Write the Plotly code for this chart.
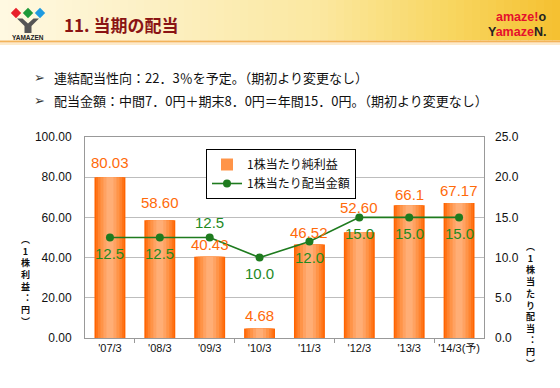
import plotly.graph_objects as go

# ---------------- data ----------------
categories = ["'07/3", "'08/3", "'09/3", "'10/3", "'11/3", "'12/3", "'13/3", "'14/3(予)"]
eps = [80.03, 58.60, 40.43, 4.68, 46.52, 52.60, 66.10, 67.17]
eps_labels = ["80.03", "58.60", "40.43", "4.68", "46.52", "52.60", "66.1", "67.17"]
dividend = [12.5, 12.5, 12.5, 10.0, 12.0, 15.0, 15.0, 15.0]
left_ticks = [0, 20, 40, 60, 80, 100]
right_ticks = [0, 5, 10, 15, 20, 25]
series_names = ["1株当たり純利益", "1株当たり配当金額"]
title_text = "11. 当期の配当"
bullets = ["連結配当性向：22．3％を予定。（期初より変更なし）",
           "配当金額：中間7．0円＋期末8．0円＝年間15．0円。（期初より変更なし）"]
left_title = "（1株利益：円）"
right_title = "（1株当たり配当：円）"

# ---------------- style ----------------
W, H = 560, 388
L, R, T, B = 85, 484, 137, 338
def px(x): return (x - L) / (R - L)
def py(y): return (B - y) / (B - T)

ORANGE_TXT = "#FF6A0A"
GREEN_TXT = "#1F8A1F"
GREEN_LINE = "#1E7B1E"
NUMFONT = "Liberation Sans, Arial, Noto Sans CJK JP"
JPFONT = "Noto Sans CJK JP, Liberation Sans"

bar_layers = [(0.62, "#FF6400"), (0.56, "#FF7418"), (0.48, "#FF8430"),
              (0.38, "#FF9448"), (0.26, "#FFA262"), (0.14, "#FFAE76")]
bar_label_shift = [15, 18, 12, 13, 12, 25, 11, 12]
div_label_shift = [-16, -16, 15, -16, -16, -16, -16, -16]

fig = go.Figure()
for i, (w, c) in enumerate(bar_layers):
    fig.add_trace(go.Bar(
        x=categories, y=eps, width=w, name=series_names[0],
        marker=dict(color=c, line=dict(width=0)),
        showlegend=(i == 3), hoverinfo="skip" if i else None,
        legendrank=1, yaxis="y"))
fig.add_trace(go.Scatter(
    x=categories, y=dividend, name=series_names[1], yaxis="y2",
    mode="lines+markers", line=dict(color=GREEN_LINE, width=1.6),
    marker=dict(color=GREEN_LINE, size=8), legendrank=2))
# invisible helper trace for the every-other-boundary tick marks
fig.add_trace(go.Scatter(x=[0], y=[0], xaxis="x3", yaxis="y", mode="markers",
                         marker=dict(opacity=0), showlegend=False, hoverinfo="skip"))

ann = []
for c, v, s, lab in zip(categories, eps, bar_label_shift, eps_labels):
    ann.append(dict(x=c, y=v, xref="x", yref="y", text=lab, showarrow=False,
                    xanchor="center", yanchor="middle",
                    yshift=s, font=dict(size=15, color=ORANGE_TXT, family=NUMFONT)))
for c, v, s in zip(categories, dividend, div_label_shift):
    ann.append(dict(x=c, y=v, xref="x", yref="y2", text=f"{v:.1f}", showarrow=False,
                    xanchor="center", yanchor="middle",
                    yshift=s, font=dict(size=15, color=GREEN_TXT, family=NUMFONT)))

def pann(x, y, text, size, color="#111", family=JPFONT, xanchor="center", weight="normal"):
    ann.append(dict(x=px(x), y=py(y), xref="paper", yref="paper", text=text,
                    showarrow=False, xanchor=xanchor, yanchor="middle",
                    font=dict(size=size, color=color, family=family, weight=weight)))

# vertical axis titles (stacked upright characters)
vmap = {"（": "︵", "）": "︶", "：": "︓"}
def vertical(text): return "<br>".join(vmap.get(ch, ch) for ch in text)
pann(25, 280, vertical(left_title), 9, weight="bold")
pann(530, 305, vertical(right_title), 9, weight="bold")

# header title + logos + bullets
pann(62, 24, title_text, 17, color="#8A1414", xanchor="left", weight="bold")
pann(28, 37, "YAMAZEN", 6.5, color="#222", family=NUMFONT, weight="bold")
pann(548, 17, "<span style='color:#E5102C'>amaze!</span><span style='color:#222'>o</span>",
     12.5, family=NUMFONT, xanchor="right", weight="bold")
pann(548, 31.5, "<span style='color:#222'>Y</span><span style='color:#E5102C'>amaze</span>"
     "<span style='color:#222'>N.</span>", 12.5, family=NUMFONT, xanchor="right", weight="bold")
for k, b in enumerate(bullets):
    yy = 77 + k * 24
    pann(39, yy, "➢", 13, color="#333", family="DejaVu Sans")
    pann(52, yy, b, 13, xanchor="left")

shapes = []
# banner gradient
def lerp(a, b, t): return int(round(a + (b - a) * t))
stops = [(0, (255, 249, 226)), (150, (252, 240, 196)), (320, (251, 232, 160)),
         (450, (248, 214, 96)), (560, (245, 192, 48))]
for x0 in range(0, 560, 8):
    xm = x0 + 4
    for (a, ca), (b, cb) in zip(stops[:-1], stops[1:]):
        if a <= xm <= b:
            t = (xm - a) / (b - a)
            col = "rgb(%d,%d,%d)" % tuple(lerp(ca[j], cb[j], t) for j in range(3))
            break
    shapes.append(dict(type="rect", xref="paper", yref="paper", x0=px(x0), x1=px(x0 + 8.5),
                       y0=py(0), y1=py(40.5), fillcolor=col, line=dict(width=0), layer="below"))
shapes.append(dict(type="rect", xref="paper", yref="paper", x0=px(0), x1=px(560),
                   y0=py(40.5), y1=py(42.5), fillcolor="#F3B35A", line=dict(width=0)))
shapes.append(dict(type="rect", xref="paper", yref="paper", x0=px(0), x1=px(560),
                   y0=py(43.3), y1=py(44.8), fillcolor="#FCE3B8", line=dict(width=0)))
# YAMAZEN mark
def diamond(cx, cy, r, col):
    pts = [(cx, cy - r), (cx + r, cy), (cx, cy + r), (cx - r, cy)]
    path = "M " + " L ".join(f"{px(a)} {py(b)}" for a, b in pts) + " Z"
    shapes.append(dict(type="path", xref="paper", yref="paper", path=path,
                       fillcolor=col, line=dict(width=0)))
diamond(16, 13, 5.2, "#E8202A")
diamond(28, 13, 5.2, "#1E9A3A")
diamond(40, 13, 5.2, "#1E9AE0")
ypts = [(17, 18.5), (22.5, 18.5), (28, 23.5), (33.5, 18.5), (39, 18.5),
        (31.5, 26), (31.5, 33), (24.5, 33), (24.5, 26)]
shapes.append(dict(type="path", xref="paper", yref="paper",
                   path="M " + " L ".join(f"{px(a)} {py(b)}" for a, b in ypts) + " Z",
                   fillcolor="#555", line=dict(width=0)))
# legend shadow
shapes.append(dict(type="rect", xref="paper", yref="paper", x0=px(209), x1=px(355),
                   y0=py(152), y1=py(194), fillcolor="#9a9a9a", line=dict(width=0)))

fig.update_layout(
    width=W, height=H, margin=dict(l=L, r=W - R, t=T, b=H - B),
    paper_bgcolor="white", plot_bgcolor="white", barmode="overlay",
    font=dict(family=NUMFONT, color="#111"),
    annotations=ann, shapes=shapes,
    legend=dict(x=px(206), y=py(149), xanchor="left", yanchor="top",
                bgcolor="white", bordercolor="#000", borderwidth=1,
                font=dict(size=12, family=JPFONT, color="#111"),
                tracegroupgap=0, itemwidth=30),
    xaxis=dict(type="category", showline=True, linecolor="#999", linewidth=1, mirror=True,
               ticks="", tickfont=dict(size=11, family=NUMFONT, color="#111"), showgrid=False),
    xaxis3=dict(overlaying="x", type="linear", range=[-0.5, 7.5], tickvals=[0.5, 2.5, 4.5, 6.5],
                ticks="outside", ticklen=4, tickcolor="#999", showticklabels=False,
                showgrid=False, showline=False, zeroline=False, anchor="y"),
    yaxis=dict(range=[0, 100], tickvals=left_ticks, tickformat=".2f", showgrid=True,
               gridcolor="#BDBDBD", gridwidth=1, showline=True, linecolor="#999", mirror=True,
               zeroline=False, ticks="", ticklabelstandoff=10,
               tickfont=dict(size=12, family=NUMFONT, color="#111")),
    yaxis2=dict(range=[0, 25], tickvals=right_ticks, tickformat=".1f", overlaying="y",
                side="right", showgrid=False, zeroline=False, ticks="", ticklabelstandoff=10,
                tickfont=dict(size=12, family=NUMFONT, color="#111")),
)
fig.write_html("out.html", config={"displayModeBar": False},
               post_script="document.body.style.margin='0';document.body.style.overflow='hidden';")
